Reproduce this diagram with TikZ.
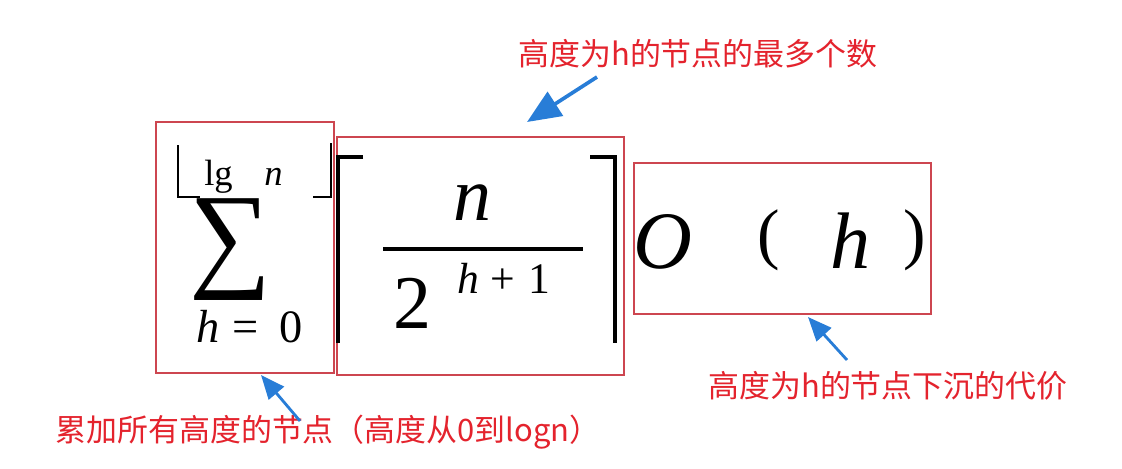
\documentclass[tikz,border=0pt]{standalone}
\usepackage{fontspec}
\setmainfont{Liberation Serif}
\newfontfamily\cjk{Noto Sans CJK SC}
\usetikzlibrary{arrows.meta}
\definecolor{boxred}{RGB}{205,70,80}
\definecolor{notered}{RGB}{228,35,45}
\definecolor{arrowblue}{RGB}{40,125,215}
\newcommand{\fsz}[1]{\fontsize{#1}{#1}\selectfont}

\begin{document}
\begin{tikzpicture}[
    x=0.025cm, y=-0.025cm,
    box/.style={draw=boxred, line width=0.9pt, inner sep=0pt},
    note/.style={text=notered, font=\cjk\fsz{22}, inner sep=0pt},
    sym/.style={inner sep=0pt, anchor=base west},
    delim/.style={line width=1.6pt},
    arr/.style={draw=arrowblue, line width=2.6pt, -{Triangle[length=24pt, width=20pt, fill=arrowblue]}},
    arrs/.style={arr, line width=2pt, -{Triangle[length=17pt, width=14pt, fill=arrowblue]}}
]
\useasboundingbox[fill=white] (0,0) rectangle (1122,468);

\node[box, minimum width=4.45cm, minimum height=6.275cm] (sumbox) at (245,247.5) {};
\node[box, minimum width=7.175cm, minimum height=5.95cm] (fracbox) at (480.5,256) {};
\node[box, minimum width=7.425cm, minimum height=3.775cm] (costbox) at (782.5,238.5) {};

\node[sym, font=\fsz{26}] (lg) at (204,185) {lg};
\node[sym, font=\fsz{26}\itshape] (topn) at (264,185) {n};
\node[inner sep=0pt] (sigma) at (231,249.5) {\resizebox{2.05cm}{1.92cm}{∑}};
\node[sym, font=\fsz{33}\itshape] (lowh) at (196,342) {h};
\node[sym, font=\fsz{33}] (eq) at (232,342) {=};
\node[sym, font=\fsz{33}] (zero) at (279,342) {0};
\draw[delim] (178,145) -- (178,197) -- (200,197);
\draw[delim] (313,197) -- (331,197) -- (331,143);

\node[sym, font=\fsz{54}\itshape] (num) at (453,220) {n};
\draw[line width=2.2pt] (383,249) -- (583,249);
\node[sym, font=\fsz{54}] (two) at (393,328) {2};
\node[sym, font=\fsz{31}\itshape] (exph) at (457,293) {h};
\node[sym, font=\fsz{31}] (plus) at (490,293) {+};
\node[sym, font=\fsz{31}] (one) at (528,293) {1};
\draw[delim, line width=2.2pt] (363,157) -- (338,157) -- (338,343);
\draw[delim, line width=2.2pt] (590,157) -- (615,157) -- (615,343);

\node[sym, font=\fsz{58}\itshape] (bigo) at (633,268) {O};
\node[inner sep=0pt, font=\fsz{48}] (lpar) at (769,240) {(};
\node[sym, font=\fsz{57}\itshape] (argh) at (830,268) {h};
\node[inner sep=0pt, font=\fsz{48}] (rpar) at (915,240) {)};

\node[note] (notetop) at (698,54) {高度为h的节点的最多个数};
\node[note] (noteleft) at (328,432) {累加所有高度的节点（高度从0到logn）};
\node[note] (noteright) at (888,386) {高度为h的节点下沉的代价};

\coordinate (tailtop) at (597,77);
\coordinate (headtop) at (527,122);
\coordinate (tailleft) at (300,421);
\coordinate (headleft) at (261,375);
\coordinate (tailright) at (847,360);
\coordinate (headright) at (808,317);

\draw[arr] (tailtop) -- (headtop);
\draw[arrs] (tailleft) -- (headleft);
\draw[arrs] (tailright) -- (headright);
\end{tikzpicture}
\end{document}
